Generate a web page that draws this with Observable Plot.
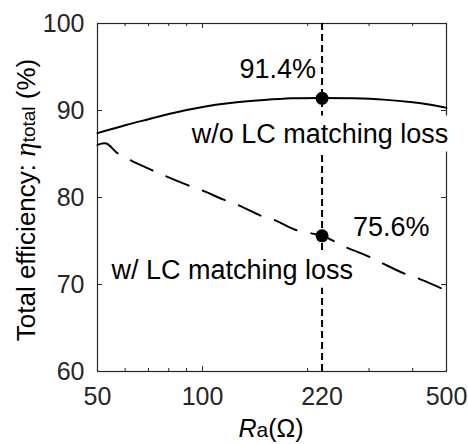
<!DOCTYPE html>
<html><head><meta charset="utf-8">
<script src="https://cdn.jsdelivr.net/npm/d3@7"></script>
<script src="https://cdn.jsdelivr.net/npm/@observablehq/plot@0.6"></script>
<style>
html,body{margin:0;padding:0;background:#fff;}
#chart{width:468px;height:444px;}
</style></head><body><div id="chart"></div>
<script>
// ---- data ----
const R_wo   = [50, 60, 70, 80, 100, 120, 150, 180, 220, 270, 330, 400, 450, 500];
const eta_wo = [87.4, 88.3, 89.0, 89.6, 90.4, 90.85, 91.2, 91.4, 91.45, 91.4, 91.25, 90.95, 90.65, 90.3];
const R_w    = [50, 53, 57, 62, 72, 79, 91, 100, 115, 127, 147, 161, 187, 220, 257, 294, 329, 379, 415, 475, 500];
const eta_w  = [86.05, 86.2, 85.1, 84.3, 83.1, 82.4, 81.4, 80.8, 79.75, 79.1, 77.9, 77.4, 76.2, 75.6, 74.3, 73.35, 72.4, 71.25, 70.7, 69.7, 69.3];
const optR = 220;
const markR = [220, 220];
const markEta = [91.4, 75.6];
const markText = ["91.4%", "75.6%"];
const curveText = ["w/o LC matching loss", "w/ LC matching loss"];
const curveLabelY = [90, 75.6];
const xTicks = [50, 100, 220, 500];
const xMinor = [60, 70, 80, 90, 200, 300, 400];
const xMajorInner = [100, 220];
const yTicks = [60, 70, 80, 90, 100];
const yInner = [70, 80, 90];

const wo = R_wo.map((r, i) => ({R: r, eta: eta_wo[i]}));
const w = R_w.map((r, i) => ({R: r, eta: eta_w[i]}));
const pts = markR.map((r, i) => ({R: r, eta: markEta[i], label: markText[i]}));

const font = "'Liberation Sans', Arial, Helvetica, sans-serif";
const ink = "#262626";
const W = 468, H = 444, mL = 97, mR = 22, mT = 23, mB = 73;
const fw = W - mL - mR, fh = H - mT - mB;

const plot = Plot.plot({
  width: W, height: H,
  marginLeft: mL, marginRight: mR, marginTop: mT, marginBottom: mB,
  style: {fontFamily: font, background: "#fff", color: ink, overflow: "visible"},
  x: {type: "log", domain: [50, 500], axis: null},
  y: {domain: [60, 100], axis: null},
  marks: [
    Plot.frame({stroke: ink, strokeWidth: 1.2}),
    // tick labels
    Plot.text(xTicks, {x: d => d, frameAnchor: "bottom", lineAnchor: "top", dy: 16, text: d => String(d), fontSize: 25, fill: ink}),
    Plot.text(yTicks, {y: d => d, frameAnchor: "left", textAnchor: "end", dx: -13, text: d => String(d), fontSize: 25, fill: ink}),
    // inward ticks
    Plot.tickX(xMinor, {x: d => d, insetTop: fh - 3, stroke: ink, strokeWidth: 1}),
    Plot.tickX(xMinor, {x: d => d, insetBottom: fh - 3, stroke: ink, strokeWidth: 1}),
    Plot.tickX(xMajorInner, {x: d => d, insetTop: fh - 5, stroke: ink, strokeWidth: 1}),
    Plot.tickX(xMajorInner, {x: d => d, insetBottom: fh - 5, stroke: ink, strokeWidth: 1}),
    Plot.tickY(yInner, {y: d => d, insetRight: fw - 5, stroke: ink, strokeWidth: 1}),
    Plot.tickY(yInner, {y: d => d, insetLeft: fw - 5, stroke: ink, strokeWidth: 1}),
    Plot.line(wo, {x: "R", y: "eta", stroke: "#000", strokeWidth: 2, curve: "catmull-rom"}),
    Plot.line(w, {x: "R", y: "eta", stroke: "#000", strokeWidth: 2, strokeDasharray: "24,15", curve: "catmull-rom"}),
    Plot.ruleX([optR], {stroke: "#000", strokeWidth: 2, strokeDasharray: "7,4"}),
    Plot.dot(pts, {x: "R", y: "eta", r: 6.5, fill: "#000", stroke: null}),
    Plot.text([pts[0]], {x: "R", y: "eta", text: "label", textAnchor: "end", lineAnchor: "bottom", dx: -6, dy: -20, fontSize: 27, fill: "#000"}),
    Plot.text([pts[1]], {x: "R", y: "eta", text: "label", textAnchor: "start", lineAnchor: "bottom", dx: 31, dy: 0, fontSize: 27, fill: "#000"}),
    Plot.text([{R: optR, eta: curveLabelY[0], t: curveText[0]}], {x: "R", y: "eta", text: "t", textAnchor: "middle", lineAnchor: "bottom", dx: -2, dy: 32, fontSize: 27, fill: "#000"}),
    Plot.text([{R: optR, eta: curveLabelY[1], t: curveText[1]}], {x: "R", y: "eta", text: "t", textAnchor: "end", lineAnchor: "bottom", dx: 31, dy: 43, fontSize: 27, fill: "#000"})
  ]
});
document.getElementById("chart").appendChild(plot);

// white background boxes behind the annotation texts
const svg = d3.select(plot);
svg.selectAll("text").each(function() {
  const t = this.textContent;
  if (curveText.includes(t) || markText.includes(t)) {
    const b = this.getBBox();
    const pad = 3;
    const rect = document.createElementNS("http://www.w3.org/2000/svg", "rect");
    rect.setAttribute("x", b.x - pad);
    rect.setAttribute("y", b.y - pad);
    rect.setAttribute("width", b.width + 2 * pad);
    rect.setAttribute("height", b.height + 2 * pad);
    rect.setAttribute("fill", "#fff");
    const tr = this.getAttribute("transform");
    if (tr) rect.setAttribute("transform", tr);
    this.parentNode.insertBefore(rect, this);
  }
});

// axis titles
const yl = svg.append("text")
  .attr("transform", "translate(35,200) rotate(-90)")
  .attr("text-anchor", "middle")
  .attr("font-family", font).attr("font-size", 26).attr("fill", "#000");
yl.append("tspan").text("Total efficiency: ");
yl.append("tspan").attr("font-family", "'Liberation Serif', 'DejaVu Serif', serif").attr("font-style", "italic").attr("font-size", 29).text("η");
yl.append("tspan").attr("font-size", 19).text("total");
yl.append("tspan").text(" (%)");

const xl = svg.append("text")
  .attr("x", 271).attr("y", 437)
  .attr("text-anchor", "middle")
  .attr("font-family", font).attr("font-size", 25).attr("fill", "#000");
xl.append("tspan").attr("font-style", "italic").text("R");
xl.append("tspan").attr("font-size", 21).text("a");
xl.append("tspan").text("(Ω)");
</script>
</body></html>
